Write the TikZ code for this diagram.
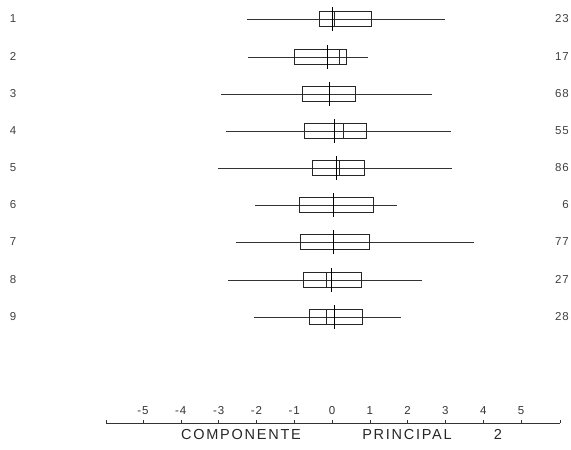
\documentclass[tikz,border=0pt]{standalone}
\usepackage{fontspec}
\setmainfont{Liberation Sans}
\newfontfamily\spacedfont[LetterSpace=12]{Liberation Sans}
\newfontfamily\digitfont[LetterSpace=8]{Liberation Sans}
\begin{document}
\begin{tikzpicture}[x=1pt,y=-1pt,
  whisk/.style={line width=0.6pt,black!80},
  boxst/.style={line width=0.7pt,black!85},
  meanln/.style={line width=0.95pt,black},
  medln/.style={line width=0.8pt,black!85},
  rowlab/.style={font=\digitfont\fontsize{11.5}{12}\selectfont,text=black!75,inner sep=0pt},
  ticklab/.style={font=\digitfont\fontsize{11.5}{12}\selectfont,text=black!80,inner sep=0pt,anchor=base},
  titlelab/.style={font=\spacedfont\fontsize{14.5}{15}\selectfont,text=black!85,inner sep=0pt,anchor=base}]
\useasboundingbox (0,0) rectangle (571,450);
% rows: y, whiskL, boxL, boxR, whiskR, mean(tall), median(inner or -1), right label
\foreach \i/\yy/\wl/\bl/\br/\wr/\mn/\md/\rl in {
  1/19/247/319/371/445/332/334/23,
  2/57/248/294/346/368/327/339/17,
  3/94/221/302/355/432/329/-1/68,
  4/131/226/304/366/451/334/343/55,
  5/168/218/312/364/452/336/339/86,
  6/205/255/299/373/397/333/-1/6,
  7/242/236/300/369/474/333/-1/77,
  8/280/228/303/361/422/331/326/27,
  9/317/254/309/362/401/334/326/28}{
  \coordinate (wl\i) at (\wl,\yy);
  \coordinate (wr\i) at (\wr,\yy);
  \draw[whisk] (wl\i) -- (wr\i);
  \draw[boxst] (\bl,\yy-7.5) rectangle (\br,\yy+7.5);
  \draw[meanln] (\mn,\yy-12) -- (\mn,\yy+12);
  \ifnum\md>0 \draw[medln] (\md,\yy-7.5) -- (\md,\yy+7.5); \fi
  \node[rowlab,anchor=base] (L\i) at (13,\yy+3) {\i};
  \node[rowlab,anchor=base east] (R\i) at (569,\yy+3) {\rl};
}
% axis
\coordinate (ax0) at (106,423);
\coordinate (ax1) at (560,423);
\draw[whisk] (ax0) -- (ax1);
\draw[whisk] (ax0) -- ++(0,-3);
\draw[whisk] (ax1) -- ++(0,-3);
\foreach \k in {-5,...,5}{
  \draw[whisk] (332+37.8*\k,423) -- (332+37.8*\k,420);
  \node[ticklab] (t\k) at (332+37.8*\k,414) {\ifnum\k<0 -\the\numexpr-\k\relax\else\k\fi};
}
\node[titlelab] (ttl1) at (241,439) {COMPONENTE};
\node[titlelab] (ttl2) at (407,439) {PRINCIPAL};
\node[titlelab] (ttl3) at (498,439) {2};
\end{tikzpicture}
\end{document}
